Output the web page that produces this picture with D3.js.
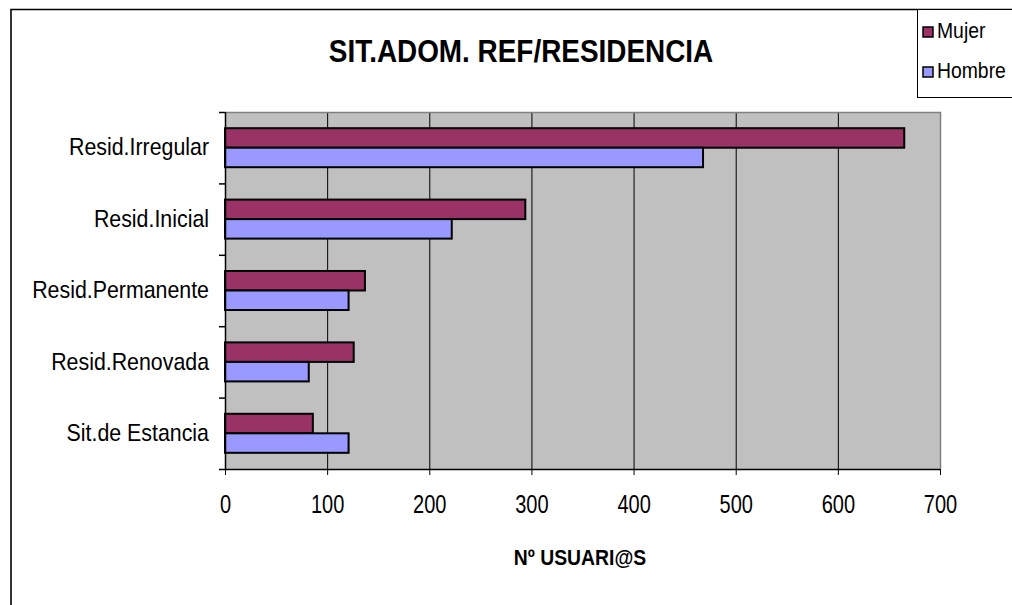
<!doctype html>
<html>

<head>
    <meta charset="UTF-8">
    <title>SIT.ADOM. REF/RESIDENCIA</title>
    <script src="https://d3js.org/d3.v7.min.js"></script>
    <style>
        body {
            margin: 0;
            background: #fff;
        }

        text {
            font-family: "Liberation Sans", Arial, sans-serif;
            fill: #000;
        }
    </style>
</head>

<body>
    <svg width="1012" height="605"></svg>

    <script>
        // datos
        var categorias = ["Resid.Irregular", "Resid.Inicial", "Resid.Permanente", "Resid.Renovada", "Sit.de Estancia"];
        var series = ["Mujer", "Hombre"];
        var mujer = [665, 294, 137, 126, 86];
        var hombre = [468, 222, 121, 82, 121];
        var ticksX = [0, 100, 200, 300, 400, 500, 600, 700];
        var colores = ["#993366", "#9999FF"];

        var filas = categorias.map(function(c, i) {
            return { cat: c, valores: [mujer[i], hombre[i]] };
        });

        var svg = d3.select("svg");

        // texto estrecho (la fuente del original es alta y comprimida)
        function texto(px, py, fs, sx, peso, anchor, s) {
            var g = svg.append("g").attr("transform", "translate(" + px + "," + py + ") scale(" + sx + ",1)");
            return g.append("text")
                .attr("text-anchor", anchor)
                .attr("font-size", fs + "px")
                .attr("font-weight", peso)
                .text(s);
        }

        // marco del grafico
        svg.append("path")
            .attr("d", "M11,605 L11,9.5 L1012,9.5")
            .attr("fill", "none")
            .attr("stroke", "#000")
            .attr("stroke-width", 1.6);

        var x = d3.scaleLinear().domain([0, 700]).range([225, 940]);
        var y = d3.scaleBand().domain(categorias).range([112, 469]);
        var ySub = d3.scaleBand().domain(series).range([0, y.bandwidth()]).paddingOuter(0.83);

        // fondo del area de trazado
        svg.append("rect")
            .attr("x", x(0))
            .attr("y", 112)
            .attr("width", x(700) - x(0))
            .attr("height", 469 - 112)
            .attr("fill", "#C0C0C0");

        // lineas de division
        svg.selectAll("line.grid")
            .data(ticksX.slice(1, -1))
            .enter().append("line")
            .attr("class", "grid")
            .attr("x1", function(d) { return x(d) + 0.5; })
            .attr("x2", function(d) { return x(d) + 0.5; })
            .attr("y1", 112)
            .attr("y2", 469)
            .attr("stroke", "#000")
            .attr("stroke-width", 1);

        // borde gris arriba y derecha
        svg.append("path")
            .attr("d", "M" + x(0) + ",112.5 L" + (x(700) + 0.5) + ",112.5 L" + (x(700) + 0.5) + ",469")
            .attr("fill", "none")
            .attr("stroke", "#808080")
            .attr("stroke-width", 1.5);

        // barras
        var grupos = svg.selectAll("g.cat")
            .data(filas)
            .enter().append("g")
            .attr("class", "cat")
            .attr("transform", function(d) { return "translate(0," + y(d.cat) + ")"; });

        grupos.selectAll("rect")
            .data(function(d) {
                return d.valores.map(function(v, j) { return { serie: series[j], v: v, j: j }; });
            })
            .enter().append("rect")
            .attr("x", x(0))
            .attr("y", function(d) { return ySub(d.serie); })
            .attr("width", function(d) { return x(d.v) - x(0); })
            .attr("height", ySub.bandwidth())
            .attr("fill", function(d) { return colores[d.j]; })
            .attr("stroke", "#000")
            .attr("stroke-width", 2);

        // eje x
        var ejeX = d3.axisBottom(x).tickValues(ticksX).tickSize(6).tickPadding(20).tickFormat(d3.format("d"));
        var gx = svg.append("g")
            .attr("transform", "translate(0,469)")
            .call(ejeX);
        gx.select(".domain").attr("d", "M" + x(0) + ",0.5H" + x(700)).attr("stroke", "#000").attr("stroke-width", 1.5);
        gx.selectAll(".tick line").attr("stroke", "#000");
        gx.selectAll(".tick text")
            .attr("font-size", "25px")
            .attr("font-family", "'Liberation Sans', Arial, sans-serif")
            .attr("transform", "scale(0.8,1)")
            .attr("fill", "#000");

        // eje y
        var sxY = 0.89;
        var ejeY = d3.axisLeft(y).tickSize(0).tickPadding(16);
        var gy = svg.append("g")
            .attr("transform", "translate(" + x(0) + ",0)")
            .call(ejeY);
        gy.select(".domain").attr("d", "M0.5,112V469").attr("stroke", "#000").attr("stroke-width", 1.5);
        gy.selectAll(".tick text")
            .attr("font-size", "24px")
            .attr("font-family", "'Liberation Sans', Arial, sans-serif")
            .attr("x", -16 / sxY)
            .attr("transform", "scale(" + sxY + ",1)")
            .attr("fill", "#000");

        // marcas entre categorias
        var limites = categorias.map(function(c) { return y(c); }).concat([469]);
        gy.selectAll("line.sep")
            .data(limites)
            .enter().append("line")
            .attr("class", "sep")
            .attr("x1", -6)
            .attr("x2", 0)
            .attr("y1", function(d) { return d + 0.5; })
            .attr("y2", function(d) { return d + 0.5; })
            .attr("stroke", "#000")
            .attr("stroke-width", 1.5);

        // titulos
        texto(521, 62, 31, 0.9, "bold", "middle", "SIT.ADOM. REF/RESIDENCIA");
        texto(580, 565, 22, 0.88, "bold", "middle", "Nº USUARI@S");

        // leyenda
        svg.append("rect")
            .attr("x", 917.5)
            .attr("y", 9.5)
            .attr("width", 120)
            .attr("height", 88)
            .attr("fill", "#fff")
            .attr("stroke", "#000")
            .attr("stroke-width", 1);

        series.forEach(function(s, i) {
            var yy = 27 + 40 * i;
            svg.append("rect")
                .attr("x", 923)
                .attr("y", yy)
                .attr("width", 10)
                .attr("height", 10)
                .attr("fill", colores[i])
                .attr("stroke", "#000")
                .attr("stroke-width", 1.5);
            texto(937, yy + 11, 22, 0.88, "normal", "start", s);
        });
    </script>
</body>

</html>
